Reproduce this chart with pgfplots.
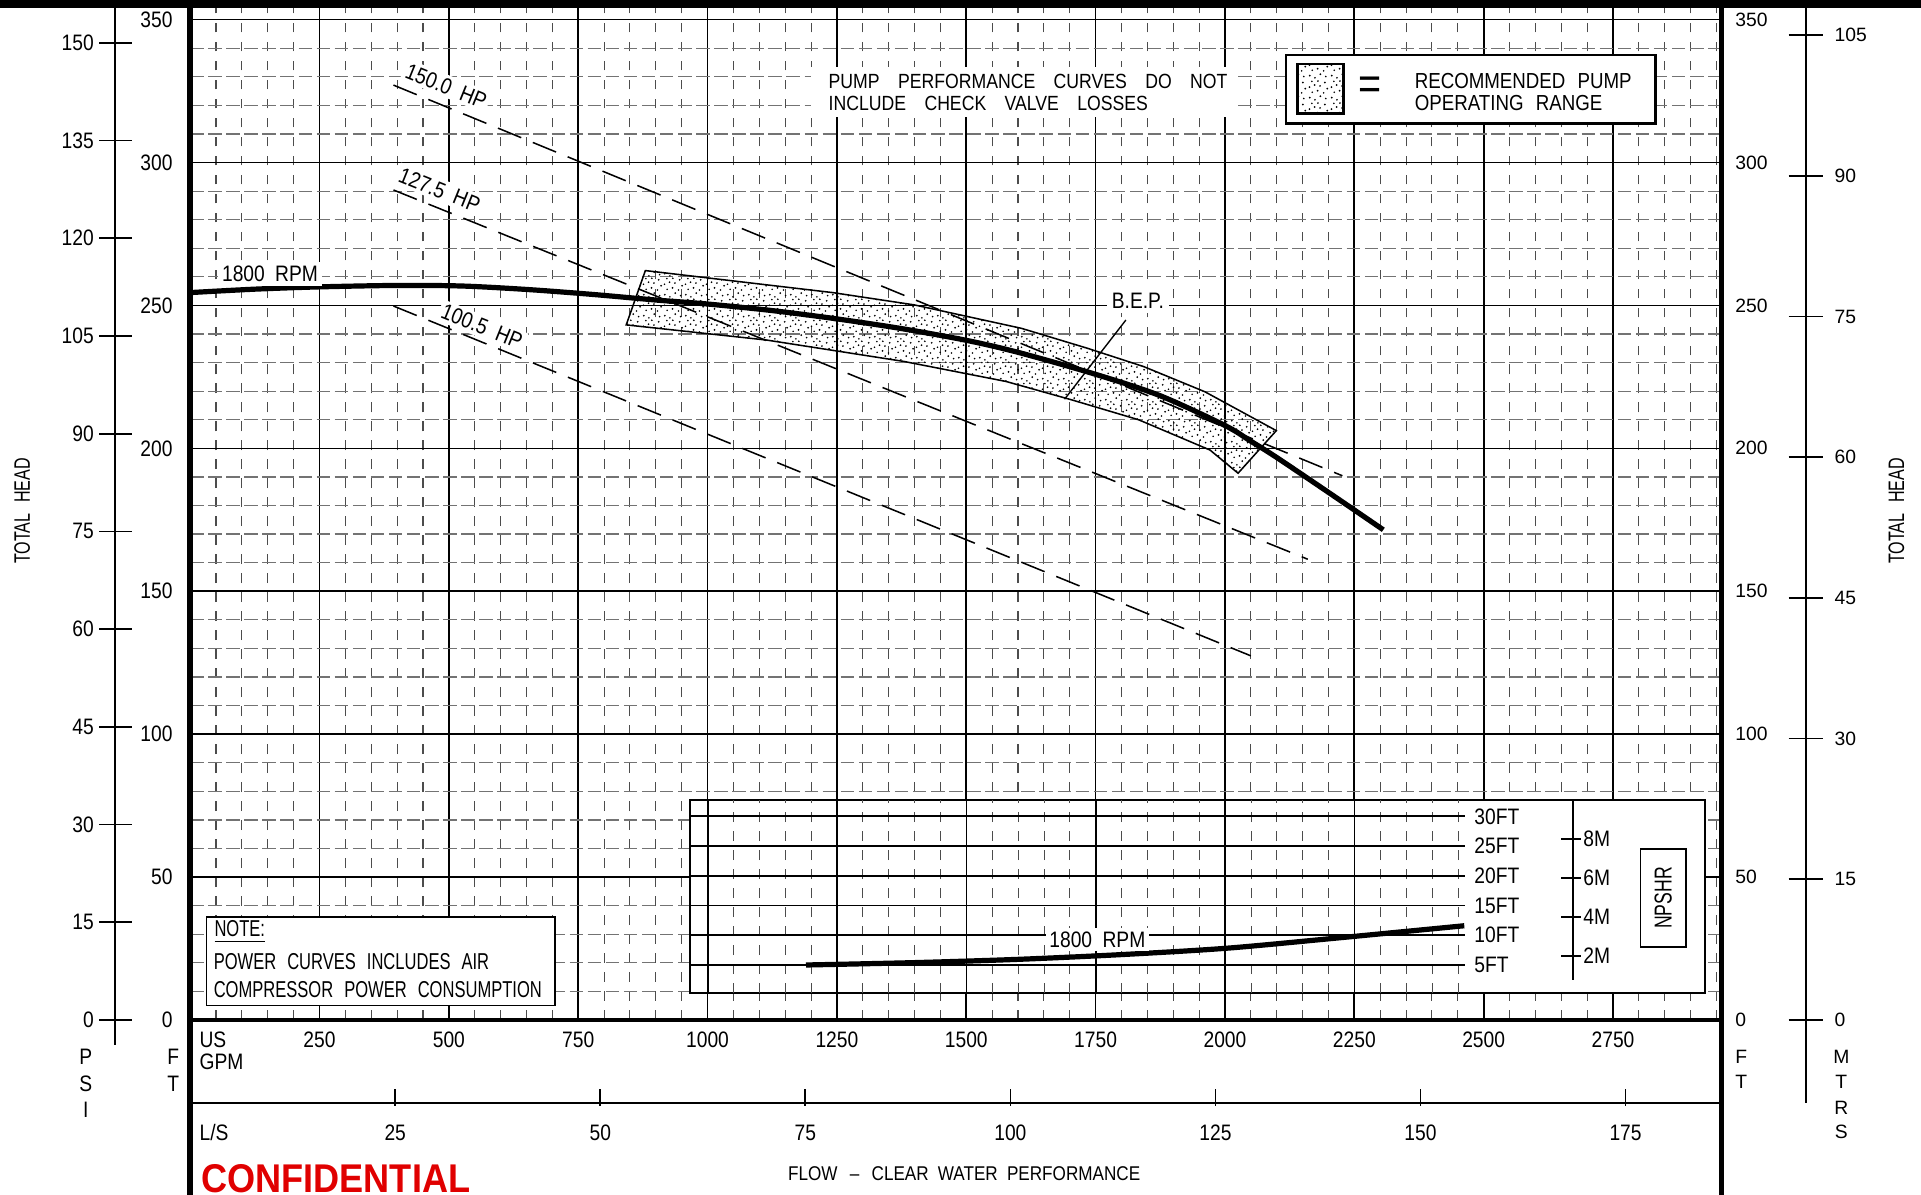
\documentclass[border=0pt]{standalone}
\usepackage{fontspec}
\setmainfont{Liberation Sans}[FakeStretch=0.86]
\newfontfamily\nar{Liberation Sans}[FakeStretch=0.72]
\newfontfamily\wid{Liberation Sans}
\newfontfamily\conf{Liberation Sans}[FakeStretch=0.9]
\usepackage{pgfplots}
\pgfplotsset{compat=1.18}
\usetikzlibrary{patterns}

\definecolor{confred}{RGB}{224,0,0}
\newcommand\fs{\fontsize{7.3}{8.8}\selectfont}
\newcommand\wn{\hspace{3.4pt}}

% sparse stipple for the operating range
\pgfdeclarepatternformonly{stipple}{\pgfqpoint{0pt}{0pt}}{\pgfqpoint{7pt}{7pt}}{\pgfqpoint{7pt}{7pt}}{%
  \pgfpathcircle{\pgfqpoint{0.6pt}{1.1pt}}{0.33pt}
  \pgfpathcircle{\pgfqpoint{2.3pt}{0.4pt}}{0.3pt}
  \pgfpathcircle{\pgfqpoint{4.1pt}{1.6pt}}{0.33pt}
  \pgfpathcircle{\pgfqpoint{5.9pt}{0.8pt}}{0.3pt}
  \pgfpathcircle{\pgfqpoint{1.4pt}{2.9pt}}{0.3pt}
  \pgfpathcircle{\pgfqpoint{3.2pt}{3.4pt}}{0.33pt}
  \pgfpathcircle{\pgfqpoint{5.2pt}{2.7pt}}{0.3pt}
  \pgfpathcircle{\pgfqpoint{6.4pt}{4.1pt}}{0.33pt}
  \pgfpathcircle{\pgfqpoint{0.5pt}{4.6pt}}{0.3pt}
  \pgfpathcircle{\pgfqpoint{2.2pt}{5.3pt}}{0.33pt}
  \pgfpathcircle{\pgfqpoint{4.0pt}{5.0pt}}{0.3pt}
  \pgfpathcircle{\pgfqpoint{5.6pt}{6.1pt}}{0.33pt}
  \pgfpathcircle{\pgfqpoint{1.3pt}{6.5pt}}{0.3pt}
  \pgfpathcircle{\pgfqpoint{3.3pt}{6.6pt}}{0.3pt}
  \pgfusepath{fill}}

\pgfplotsset{
  chartgrid/.style={
    scale only axis,
    major tick length=0pt, minor tick length=0pt,
    major grid style={black, line width=0.55pt},
    minor x grid style={black!70, line width=0.35pt, dash pattern=on 3.2pt off 3pt},
    minor y grid style={black!55, line width=0.4pt, dash pattern=on 4.4pt off 1.5pt},
  }
}

\begin{document}
\begin{tikzpicture}[x=0.4pt,y=0.4pt,font=\fs]

% main chart: flow (US GPM) against total head (ft)
\begin{axis}[chartgrid,
  at={(62.08pt,-333pt)}, anchor=south west,
  width=500.04pt, height=330.6pt,
  xmin=0, xmax=2960, ymin=0, ymax=354.3,
  axis line style={draw=none},
  xtick={250,500,...,2750},
  xticklabels={250,500,750,1000,1250,1500,1750,2000,2250,2500,2750},
  minor xtick={50,100,150,200,300,350,400,450,550,600,650,700,800,850,900,950,
    1050,1100,1150,1200,1300,1350,1400,1450,1550,1600,1650,1700,1800,1850,1900,1950,
    2050,2100,2150,2200,2300,2350,2400,2450,2550,2600,2650,2700,2800,2850,2900,2950},
  ytick={0,50,...,350},
  yticklabels={0,50,100,150,200,250,300,350},
  minor ytick={10,20,30,40,60,70,80,90,110,120,130,140,160,170,180,190,
    210,220,230,240,260,270,280,290,310,320,330,340},
  grid=both,
  xticklabel style={font=\fs, anchor=center, inner sep=0pt, yshift=-6.44pt},
  yticklabel style={font=\fs, anchor=east, inner sep=0pt, xshift=-5.56pt},
]
% recommended operating range
\addplot[draw=black, line width=0.5pt, pattern=stipple] coordinates {
  (879.8,262.2) (1241.7,254.5) (1399.4,250.2) (1606.5,242.0) (1734.5,235.0)
  (1843,228.6) (1961.2,219.8) (2099.2,206.2)
  (2025.3,191.3) (1971.1,199.4) (1833.1,210.0) (1705,216.9) (1576.9,223.4)
  (1379.7,230.4) (1113.9,237.9) (842.8,243.2)
} -- cycle;
% power lines
\addplot[black, line width=0.5pt, dash pattern=on 8.2pt off 4.1pt] coordinates {(393,327.1) (2227,190.4)};
\addplot[black, line width=0.5pt, dash pattern=on 8.2pt off 4.1pt] coordinates {(393,290.4) (2160,161.2)};
\addplot[black, line width=0.5pt, dash pattern=on 8.2pt off 4.1pt] coordinates {(393,249.8) (2050,127.4)};
% head curve, 1800 rpm
\addplot[black, line width=1.7pt, smooth] coordinates {
  (0,254.5) (125,255.7) (250,256.5) (400,257.0) (525,256.8) (650,255.6)
  (775,253.9) (900,251.9) (1000,250.5) (1125,248.2) (1250,245.3) (1375,241.9)
  (1500,237.8) (1600,233.6) (1750,225.9) (1875,218.4) (2000,208.0)
  (2050,202.5) (2100,196.8) (2200,184.6) (2306,171.5)
};
% B.E.P. leader
\addplot[black, line width=0.45pt] coordinates {(1690,217.2) (1808.5,244.9)};
\end{axis}

% NPSHR inset: white panel, then its own grid over the flow range
\draw[fill=white, line width=0.6pt] (563,-652.7) rectangle (1392,-810.5);
\begin{axis}[chartgrid,
  at={(225.2pt,-324.2pt)}, anchor=south west,
  width=253.04pt, height=63.12pt,
  xmin=965.4, xmax=2463, ymin=0.29, ymax=32.8,
  axis line style={draw=none},
  xtick={1000,1250,...,2250}, xticklabels={},
  minor xtick={1050,1100,1150,1200,1300,1350,1400,1450,1550,1600,1650,1700,
    1800,1850,1900,1950,2050,2100,2150,2200,2300,2350,2400,2450},
  ytick=\empty,
  xmajorgrids, xminorgrids,
]
\pgfplotsinvokeforeach{5,10,...,30}{
  \addplot[black, line width=0.55pt] coordinates {(965.4,#1) (2463,#1)};
}
\addplot[black, line width=1.7pt, smooth] coordinates {
  (1190,5.0) (1400,5.4) (1600,5.95) (1800,6.75) (2000,7.8) (2200,9.4) (2462,11.6)
};
\end{axis}

% labels inside the chart
\node[fill=white, inner sep=1.2pt] at (220.4,-223.6) {1800\wn RPM};
\node[rotate=-22, fill=white, inner sep=1pt] at (364.2,-70.2) {150.0\wn HP};
\node[rotate=-22, fill=white, inner sep=1pt] at (358.8,-155) {127.5\wn HP};
\node[rotate=-22, fill=white, inner sep=1pt] at (393.4,-266.6) {100.5\wn HP};
\node[fill=white, inner sep=1.5pt] at (928.8,-245.3) {B.E.P.};

\fill[white] (662,-54.4) rectangle (1009,-95.2);
\node[anchor=west, inner sep=0pt, font=\fontsize{6.7}{8}\selectfont] at (675.9,-66.6)
  {PUMP\hspace{6pt}PERFORMANCE\hspace{6pt}CURVES\hspace{6pt}DO\hspace{6pt}NOT};
\node[anchor=west, inner sep=0pt, font=\fontsize{6.7}{8}\selectfont] at (675.9,-84.3)
  {INCLUDE\hspace{6pt}CHECK\hspace{6pt}VALVE\hspace{6pt}LOSSES};

\draw[fill=white, line width=0.9pt] (1049.6,-44.9) rectangle (1351.3,-100.6);
\draw[line width=0.9pt, pattern=stipple] (1059,-52.2) rectangle (1096.5,-92.5);
\node[font=\fontsize{15}{16}\selectfont] at (1118,-72) {=};
\node[anchor=west, inner sep=0pt, font=\fontsize{7.1}{8}\selectfont] at (1154.3,-66) {RECOMMENDED\hspace{4pt}PUMP};
\node[anchor=west, inner sep=0pt, font=\fontsize{7.1}{8}\selectfont] at (1154.3,-84.3) {OPERATING\hspace{4pt}RANGE};

\draw[fill=white, line width=0.55pt] (168.6,-748.5) rectangle (452.8,-820.8);
\begin{scope}[font=\nar\fontsize{7.5}{9}\selectfont]
\node[anchor=west, inner sep=0pt] at (174.6,-760.8) {\underline{NOTE:}};
\node[anchor=west, inner sep=0pt] at (174,-785) {POWER\hspace{3.6pt}CURVES\hspace{3.6pt}INCLUDES\hspace{3.6pt}AIR};
\node[anchor=west, inner sep=0pt] at (174,-807.8) {COMPRESSOR\hspace{3.6pt}POWER\hspace{3.6pt}CONSUMPTION};
\end{scope}

% NPSHR inset scale
\foreach \f in {5,10,...,30}
  \node[anchor=west, inner sep=0pt] at (1203,{-(811.9-\f*4.85)}) {\f FT};
\draw[line width=0.55pt] (1284,-652.7) -- (1284,-799.6);
\foreach \m in {2,4,6,8} {
  \draw[line width=0.55pt] (1274.5,{-(811.9-\m*15.91)}) -- (1290.8,{-(811.9-\m*15.91)});
  \node[anchor=west, inner sep=0pt] at (1292,{-(811.9-\m*15.91)}) {\m M};
}
\draw[line width=0.55pt] (1339,-693) rectangle (1376,-773);
\node[rotate=90, font=\nar\fontsize{8}{9}\selectfont] at (1357.5,-733) {NPSHR};
\node[fill=white, inner sep=1.2pt] at (895.7,-767) {1800\wn RPM};

% left scales: psi and feet
\draw[line width=0.55pt] (94,-6) -- (94,-852.6);
\foreach \p in {0,15,...,150} {
  \draw[line width=0.55pt] (81,{-(832.5-\p*5.317)}) -- (107.5,{-(832.5-\p*5.317)});
  \node[anchor=east, inner sep=0pt] at (77,{-(832.5-\p*5.317)}) {\p};
}
\node at (70,-863) {P};
\node at (70,-885) {S};
\node at (70,-906) {I};
\node at (141.5,-863) {F};
\node at (141.5,-885) {T};
\node[rotate=90, font=\nar\fs] at (18,-417) {TOTAL\hspace{3.5pt}HEAD};

% right scales: feet and metres
\begin{scope}[font=\wid\fontsize{6.3}{7.5}\selectfont]
\foreach \f in {0,50,...,350}
  \node[anchor=west, inner sep=0pt] at (1416,{-(832.5-\f*2.333)}) {\f};
\draw[line width=0.55pt] (1474,-6) -- (1474,-900);
\foreach \m in {0,15,...,105} {
  \draw[line width=0.55pt] (1460,{-(832.5-\m*7.654)}) -- (1488,{-(832.5-\m*7.654)});
  \node[anchor=west, inner sep=0pt] at (1497,{-(832.5-\m*7.654)}) {\m};
}
\node[anchor=west, inner sep=0pt] at (1416,-863) {F};
\node[anchor=west, inner sep=0pt] at (1416,-883) {T};
\node at (1503,-863) {M};
\node at (1503,-883) {T};
\node at (1503,-904) {R};
\node at (1503,-924) {S};
\end{scope}
\node[rotate=90, font=\nar\fs] at (1548,-417) {TOTAL\hspace{3.5pt}HEAD};

% flow scales below the chart
\node[anchor=west, inner sep=0pt] at (162.4,-848.6) {US};
\node[anchor=west, inner sep=0pt] at (162.4,-867) {GPM};
\draw[line width=0.6pt] (155.2,-900) -- (1405.3,-900);
\foreach \l in {25,50,...,175} {
  \draw[line width=0.55pt] ({155.2+\l*6.695},-889) -- ({155.2+\l*6.695},-903);
  \node at ({155.2+\l*6.695},-924.7) {\l};
}
\node[anchor=west, inner sep=0pt] at (162.4,-924.7) {L/S};
\node[font=\fontsize{6.5}{8}\selectfont] at (787,-958)
  {FLOW\hspace{4pt}--\hspace{4pt}CLEAR\hspace{3pt}WATER\hspace{3pt}PERFORMANCE};
\node[anchor=base west, inner sep=0pt, text=confred, font=\conf\bfseries\fontsize{13.1}{15}\selectfont]
  at (163.9,-973.5) {CONFIDENTIAL};

% frame
\fill (0,0) rectangle (1568,-6.5);
\draw[line width=1.76pt] (155.2,0) -- (155.2,-975);
\draw[line width=1.76pt] (1405.3,0) -- (1405.3,-975);
\draw[line width=1.4pt] (155.2,-832.5) -- (1405.3,-832.5);

\pgfresetboundingbox
\path[use as bounding box] (0,0) rectangle (1568,-975);
\end{tikzpicture}
\end{document}
